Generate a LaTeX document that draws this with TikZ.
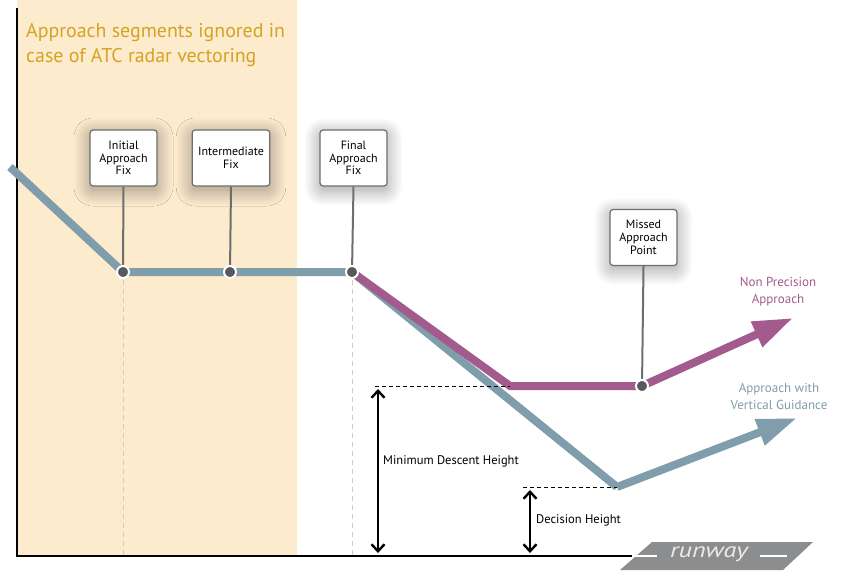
\documentclass[tikz,border=0pt]{standalone}
\usepackage{fontspec}
\setmainfont{PT Sans}
\usetikzlibrary{arrows.meta, shadows.blur}

\definecolor{vectorbg}{HTML}{FDEBCE}
\definecolor{titlegold}{HTML}{D6A222}
\definecolor{glidegray}{HTML}{7F9DAB}
\definecolor{npapurple}{HTML}{A35A8D}
\definecolor{dotgray}{HTML}{58595B}
\definecolor{stemgray}{HTML}{6D6E70}
\definecolor{runwaygray}{HTML}{8C8D8F}

\begin{document}
\begin{tikzpicture}[x=1pt,y=-1pt,
    fixbox/.style={draw=stemgray, line width=1.2pt, fill=white, rounded corners=3pt,
        align=center, font=\fontsize{12}{12.7}\selectfont, inner xsep=6pt,
        minimum width=67pt, minimum height=56pt,
        blur shadow={shadow xshift=0pt, shadow yshift=-4pt, shadow blur radius=16pt,
            shadow blur steps=30, shadow opacity=40}},
    fixdot/.style={circle, fill=dotgray, draw=white, line width=2pt, inner sep=0pt, minimum size=12pt},
    stem/.style={stemgray, line width=2pt},
    glide/.style={glidegray, line width=8pt},
    npa/.style={npapurple, line width=8pt},
    bigtip/.style={-{Triangle[length=40pt,width=26pt]}},
    heightarrow/.style={{Straight Barb[length=7pt,width=13pt]}-{Straight Barb[length=7pt,width=13pt]}, line width=2.4pt},
    refline/.style={dash pattern=on 4pt off 3pt, line width=1pt},
    guideline/.style={black!20, dash pattern=on 5pt off 4pt, line width=0.8pt}]

        \useasboundingbox (0,0) rectangle (858,584);

        % Vectoring area
        \fill[vectorbg] (17,0) rectangle (297,556);
        \node[anchor=north west, inner sep=0pt, align=left, text=titlegold,
            font=\fontsize{19.9}{25}\selectfont] (title) at (26,23.5)
            {Approach segments ignored in\\case of ATC radar vectoring};

        % Axes
        \draw[line width=1.2pt] (17,8) -- (17,556) -- (634,556);

        % Path points
        \coordinate (start) at (10,167);
        \foreach \name/\x in {iaf/123, imf/230, faf/352} {
            \coordinate (\name pt) at (\x,272);
        }
        \coordinate (mdapt) at (510,386);
        \coordinate (mappt) at (642,386);
        \coordinate (dapt) at (617,487);
        \coordinate (npaend) at (793,318);
        \coordinate (avgend) at (797,418);

        % Guide lines below the fixes
        \foreach \name in {iaf, faf} {
            \draw[guideline] ([yshift=10pt]\name pt) -- (\name pt |- 0,556);
        }

        % Approach with vertical guidance
        \draw[glide] (start) -- (iafpt) -- (imfpt) -- (fafpt) -- (dapt);
        \draw[glide, bigtip] (dapt) -- (avgend);

        % Non precision approach
        \draw[npa] (fafpt) -- (mdapt) -- (mappt);
        \draw[npa, bigtip] (mappt) -- (npaend);

        % Fix boxes
        \node[fixbox] (iaf) at (123.5,158) {Initial\\Approach\\Fix};
        \node[fixbox] (imf) at (231,158) {Intermediate\\Fix};
        \node[fixbox] (faf) at (353.5,158) {Final\\Approach\\Fix};
        \node[fixbox] (map) at (643.5,237.5) {Missed\\Approach\\Point};

        \foreach \name in {iaf, imf, faf, map} {
            \draw[stem] (\name.south) -- (\name pt);
            \node[fixdot] (\name dot) at (\name pt) {};
        }

        % Heights
        \coordinate (mdhtop) at (375,386);
        \coordinate (dhtop) at (523,487);
        \draw[refline] (mdhtop) -- (mdapt);
        \draw[refline] (dhtop) -- (dapt);
        \draw[heightarrow] (378,389) -- (378,553);
        \draw[heightarrow] (530,490) -- (530,553);
        \node[anchor=base west, inner sep=0pt, font=\fontsize{12.5}{15}\selectfont] (mdh) at (383,464) {Minimum Descent Height};
        \node[anchor=base west, inner sep=0pt, font=\fontsize{12.5}{15}\selectfont] (dh) at (536,523) {Decision Height};

        % Approach labels
        \node[anchor=north, inner sep=0pt, align=center, text=npapurple,
            font=\fontsize{13}{17}\selectfont] (npalabel) at (778,277) {Non Precision\\Approach};
        \node[anchor=north, inner sep=0pt, align=center, text=glidegray,
            font=\fontsize{13}{17}\selectfont] (avglabel) at (779,383.5) {Approach with\\Vertical Guidance};

        % Runway
        \fill[runwaygray] (620,570) -- (652,542) -- (813,542) -- (783,570) -- cycle;
        \draw[white, line width=1.5pt] (632,556) -- (657,556);
        \draw[white, line width=1.5pt] (760,556) -- (787,556);
        \node[text=black!8, font=\fontsize{21}{21}\selectfont\itshape, inner sep=0pt] (runway) at (709,554) {\scalebox{1.25}[1]{runway}};
    \end{tikzpicture}
\end{document}
